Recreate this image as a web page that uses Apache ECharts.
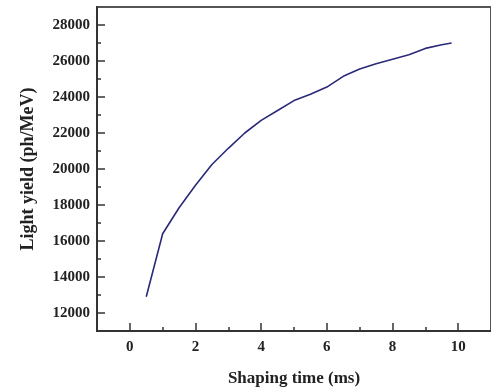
<!DOCTYPE html>
<html>
<head>
<meta charset="utf-8">
<script src="https://cdn.jsdelivr.net/npm/echarts@6/dist/echarts.min.js"></script>
<style>html,body{margin:0;padding:0;background:#fff;}#c{width:491px;height:392px;}</style>
</head>
<body>
<div id="c"></div>
<script>
const shapingTime = [0.5, 1.0, 1.5, 2.0, 2.5, 3.0, 3.5, 4.0, 4.5, 5.0, 5.5, 6.0, 6.5, 7.0, 7.5, 8.0, 8.5, 9.0, 9.5, 9.8];
const lightYield = [12900, 16400, 17850, 19100, 20250, 21150, 22000, 22700, 23250, 23800, 24150, 24550, 25150, 25550, 25850, 26100, 26350, 26700, 26900, 27000];
const xTickLabels = [0, 2, 4, 6, 8, 10];
const xMinorTicks = [1, 3, 5, 7, 9];
const yTickLabels = [12000, 14000, 16000, 18000, 20000, 22000, 24000, 26000, 28000];
const yMinorTicks = [13000, 15000, 17000, 19000, 21000, 23000, 25000, 27000];

const font = '"Liberation Serif", "Times New Roman", serif';
const lbl = {fontFamily: font, fontWeight: 'bold', fontSize: 15, color: '#222', formatter: v => String(v)};

const chart = echarts.init(document.getElementById('c'), null, {renderer: 'canvas'});
chart.setOption({
  animation: false,
  backgroundColor: '#fff',
  grid: {left: 97, top: 7, width: 395, height: 326, show: true, borderColor: '#555', borderWidth: 2, backgroundColor: 'transparent'},
  xAxis: [
    {type: 'value', min: -1, max: 11, position: 'bottom',
     name: 'Shaping time (ms)', nameLocation: 'middle', nameGap: 39,
     nameTextStyle: {fontFamily: font, fontWeight: 'bold', fontSize: 17, color: '#222'},
     axisLine: {show: true, onZero: false, lineStyle: {color: '#333', width: 2}},
     axisTick: {show: true, inside: true, length: 8, customValues: xTickLabels, lineStyle: {color: '#333', width: 1.5}},
     axisLabel: Object.assign({margin: 9, customValues: xTickLabels}, lbl),
     splitLine: {show: false}},
    {type: 'value', min: -1, max: 11, position: 'bottom',
     axisLine: {show: false, onZero: false},
     axisTick: {show: true, inside: true, length: 4, customValues: xMinorTicks, lineStyle: {color: '#333', width: 1.5}},
     axisLabel: {show: false}, splitLine: {show: false}}
  ],
  yAxis: [
    {type: 'value', min: 11000, max: 29000, position: 'left',
     name: 'Light yield (ph/MeV)', nameLocation: 'middle', nameGap: 60, nameRotate: 90,
     nameTextStyle: {fontFamily: font, fontWeight: 'bold', fontSize: 18, color: '#222'},
     axisLine: {show: true, onZero: false, lineStyle: {color: '#333', width: 2}},
     axisTick: {show: true, inside: true, length: 8, customValues: yTickLabels, lineStyle: {color: '#333', width: 1.5}},
     axisLabel: Object.assign({margin: 7, customValues: yTickLabels}, lbl),
     splitLine: {show: false}},
    {type: 'value', min: 11000, max: 29000, position: 'left',
     axisLine: {show: false, onZero: false},
     axisTick: {show: true, inside: true, length: 4, customValues: yMinorTicks, lineStyle: {color: '#333', width: 1.5}},
     axisLabel: {show: false}, splitLine: {show: false}}
  ],
  series: [{
    type: 'line', xAxisIndex: 0, yAxisIndex: 0,
    data: shapingTime.map((x, i) => [x, lightYield[i]]),
    showSymbol: false, symbol: 'none',
    lineStyle: {color: '#2a2a78', width: 1.6}
  }]
});
</script>
</body>
</html>
